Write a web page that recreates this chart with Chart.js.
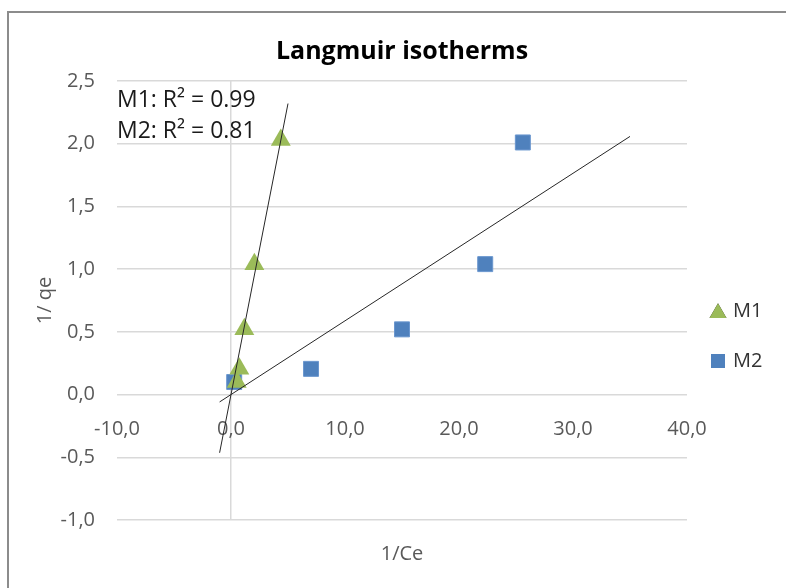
<!DOCTYPE html>
<html>
<head>
<meta charset="utf-8">
<script src="https://cdn.jsdelivr.net/npm/chart.js@4/dist/chart.umd.min.js"></script>
<style>
  html, body { margin: 0; padding: 0; background: #fff; }
</style>
</head>
<body>
<canvas id="chart" width="786" height="588"></canvas>
<script>
// valores
const seriesNames = ['M1', 'M2'];
const m1X = [0.50, 0.73, 1.17, 2.05, 4.37];
const m1Y = [0.10, 0.205, 0.52, 1.04, 2.03];
const m2X = [0.28, 7.02, 15.0, 22.3, 25.6];
const m2Y = [0.10, 0.205, 0.52, 1.04, 2.01];
const r2Labels = ['M1: R\u00B2 = 0.99', 'M2: R\u00B2 = 0.81'];
const trendFrom = [-1, -1];
const trendTo = [5, 35];
const xTicks = [-10, 0, 10, 20, 30, 40];
const yTicks = [-1, -0.5, 0, 0.5, 1, 1.5, 2, 2.5];

const FONT = '"Open Sans", "Liberation Sans", sans-serif';
const gridColor = '#d9d9d9';
const labelColor = '#595959';
const colors = ['#9BBB59', '#4F81BD'];

const fmt = v => Number(v).toFixed(1).replace('.', ',');

// recta de tendencia por el origen (como Excel con intersección = 0)
function slopeThroughOrigin(xs, ys) {
    let sxy = 0, sxx = 0;
    xs.forEach((x, i) => { sxy += x * ys[i]; sxx += x * x; });
    return sxy / sxx;
}

function trendPoints(xs, ys, i) {
    const k = slopeThroughOrigin(xs, ys);
    return [trendFrom[i], trendTo[i]].map(x => ({ x, y: k * x }));
}

const toPoints = (xs, ys) => xs.map((x, i) => ({ x, y: ys[i] }));

const decorPlugin = {
    id: 'decor',
    afterDraw(chart) {
        const ctx = chart.ctx;
        ctx.save();
        // marco del gráfico (recortado a la derecha y abajo)
        ctx.strokeStyle = '#8c8c8c';
        ctx.lineWidth = 2;
        ctx.beginPath();
        ctx.moveTo(8, 588);
        ctx.lineTo(8, 12);
        ctx.lineTo(786, 12);
        ctx.stroke();

        // etiquetas R²
        ctx.fillStyle = '#1a1a1a';
        ctx.font = '23px ' + FONT;
        ctx.textAlign = 'left';
        ctx.textBaseline = 'alphabetic';
        ctx.fillText(r2Labels[0], chart.chartArea.left, 107);
        ctx.fillText(r2Labels[1], chart.chartArea.left, 138);

        // leyenda
        const legendY = [313, 361];
        const styles = ['triangle', 'rect'];
        const radii = [9.8, 9.9];
        seriesNames.forEach((name, i) => {
            Chart.helpers.drawPoint(ctx, {
                pointStyle: styles[i],
                radius: radii[i],
                rotation: 0,
                borderWidth: 0
            }, 718, legendY[i]);
            ctx.fillStyle = colors[i];
            ctx.fill();
            ctx.fillStyle = '#333';
            ctx.font = '20px ' + FONT;
            ctx.textBaseline = 'middle';
            ctx.fillText(name, 733, [311, 361][i]);
        });
        ctx.restore();
    }
};

new Chart(document.getElementById('chart'), {
    type: 'scatter',
    data: {
        datasets: [
            {
                label: 'trend M1',
                type: 'line',
                data: trendPoints(m1X, m1Y, 0),
                borderColor: '#262626',
                borderWidth: 1,
                pointRadius: 0,
                fill: false,
                order: 0
            },
            {
                label: 'trend M2',
                type: 'line',
                data: trendPoints(m2X, m2Y, 1),
                borderColor: '#262626',
                borderWidth: 1,
                pointRadius: 0,
                fill: false,
                order: 0
            },
            {
                label: seriesNames[0],
                data: toPoints(m1X, m1Y),
                pointStyle: 'triangle',
                pointRadius: 11.5,
                backgroundColor: colors[0],
                borderColor: colors[0],
                borderWidth: 0,
                order: 1
            },
            {
                label: seriesNames[1],
                data: toPoints(m2X, m2Y),
                pointStyle: 'rect',
                pointRadius: 10.6,
                backgroundColor: colors[1],
                borderColor: '#6b97cf',
                borderWidth: 1,
                order: 1
            }
        ]
    },
    options: {
        responsive: false,
        animation: false,
        layout: { padding: { left: 0, right: 99, top: 0, bottom: 0 } },
        plugins: {
            legend: { display: false },
            tooltip: { enabled: false },
            title: {
                display: true,
                fullSize: false,
                text: 'Langmuir isotherms',
                color: '#000',
                font: { family: FONT, size: 25, weight: 'bold' },
                padding: { top: 37, bottom: 14 }
            }
        },
        scales: {
            x: {
                type: 'linear',
                min: -10,
                max: 40,
                position: 'bottom',
                afterFit: s => { s.height = 68; },
                afterBuildTicks: s => { s.ticks = xTicks.map(v => ({ value: v })); },
                ticks: { display: false },
                grid: {
                    drawTicks: false,
                    lineWidth: 1.5,
                    color: c => (c.tick && c.tick.value === 0 ? gridColor : 'rgba(0,0,0,0)')
                },
                border: { display: false },
                title: {
                    display: true,
                    text: '1/Ce',
                    color: labelColor,
                    font: { family: FONT, size: 20 },
                    padding: { top: 0, bottom: 22 }
                }
            },
            xLabels: {
                type: 'linear',
                axis: 'x',
                min: -10,
                max: 40,
                position: { y: 0 },
                afterBuildTicks: s => { s.ticks = xTicks.map(v => ({ value: v })); },
                ticks: {
                    padding: 23,
                    color: labelColor,
                    font: { family: FONT, size: 20 },
                    callback: v => fmt(v)
                },
                grid: { display: false, drawTicks: false },
                border: { display: false }
            },
            y: {
                type: 'linear',
                min: -1,
                max: 2.5,
                position: 'left',
                afterFit: s => { s.width = 117; },
                afterBuildTicks: s => { s.ticks = yTicks.map(v => ({ value: v })); },
                ticks: {
                    padding: 22,
                    color: labelColor,
                    font: { family: FONT, size: 20 },
                    callback: v => fmt(v)
                },
                grid: { drawTicks: false, color: gridColor, lineWidth: 1.5 },
                border: { display: false },
                title: {
                    display: true,
                    text: '1/ qe',
                    color: labelColor,
                    font: { family: FONT, size: 20 },
                    padding: { top: 33, bottom: 0 }
                }
            }
        }
    },
    plugins: [decorPlugin]
});
</script>
</body>
</html>
